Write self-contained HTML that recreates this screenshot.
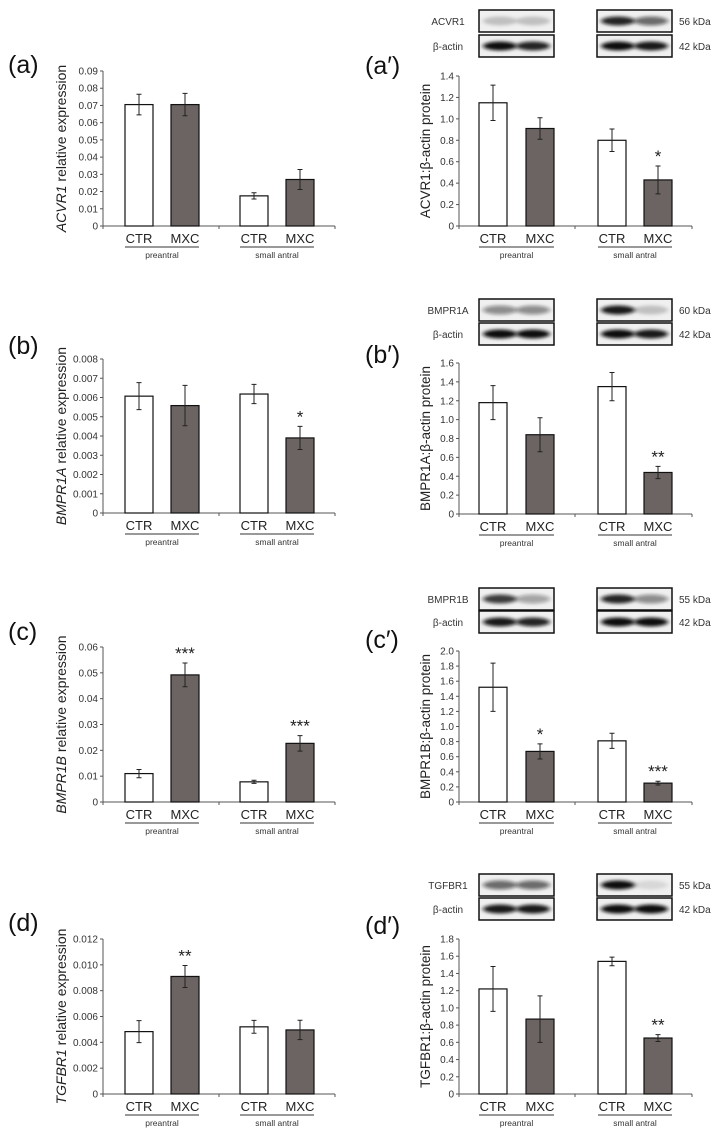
<!DOCTYPE html>
<html><head><meta charset="utf-8">
<style>
html,body{margin:0;padding:0;background:#fff;}
svg{display:block;font-family:"Liberation Sans",Arial,sans-serif;}
</style></head>
<body>
<svg id="fig" width="725" height="1135" viewBox="0 0 725 1135" xmlns="http://www.w3.org/2000/svg">
<defs>
<filter id="blur" x="-30%" y="-100%" width="160%" height="300%"><feGaussianBlur stdDeviation="2.4 1.6"/></filter>
</defs>
</svg>
<script>
// ---- data ----
const categories = ["CTR","MXC","CTR","MXC"];
const groups = ["preantral","small antral"];
const aVals = [0.0705,0.0705,0.0175,0.027];
const aErr  = [0.006,0.0065,0.0018,0.0058];
const aSig  = ["","","",""];
const aTicks = ["0","0.01","0.02","0.03","0.04","0.05","0.06","0.07","0.08","0.09"];
const apVals = [1.15,0.91,0.80,0.43];
const apErr  = [0.165,0.10,0.105,0.13];
const apSig  = ["","","","*"];
const apTicks = ["0","0.2","0.4","0.6","0.8","1.0","1.2","1.4"];
const bVals = [0.00607,0.00558,0.00618,0.0039];
const bErr  = [0.0007,0.00105,0.0005,0.0006];
const bSig  = ["","","","*"];
const bTicks = ["0","0.001","0.002","0.003","0.004","0.005","0.006","0.007","0.008"];
const bpVals = [1.18,0.84,1.35,0.44];
const bpErr  = [0.18,0.18,0.15,0.065];
const bpSig  = ["","","","**"];
const bpTicks = ["0","0.2","0.4","0.6","0.8","1.0","1.2","1.4","1.6"];
const cVals = [0.011,0.0492,0.0078,0.0227];
const cErr  = [0.0016,0.0046,0.0006,0.003];
const cSig  = ["","***","","***"];
const cTicks = ["0","0.01","0.02","0.03","0.04","0.05","0.06"];
const cpVals = [1.52,0.67,0.81,0.25];
const cpErr  = [0.32,0.10,0.10,0.025];
const cpSig  = ["","*","","***"];
const cpTicks = ["0","0.2","0.4","0.6","0.8","1.0","1.2","1.4","1.6","1.8","2.0"];
const dVals = [0.00483,0.0091,0.0052,0.00496];
const dErr  = [0.00085,0.00085,0.0005,0.00075];
const dSig  = ["","**","",""];
const dTicks = ["0","0.002","0.004","0.006","0.008","0.010","0.012"];
const dpVals = [1.22,0.87,1.54,0.65];
const dpErr  = [0.26,0.27,0.05,0.04];
const dpSig  = ["","","","**"];
const dpTicks = ["0","0.2","0.4","0.6","0.8","1.0","1.2","1.4","1.6","1.8"];
// blot band intensities (target lanes CTR,MXC,CTR,MXC ; actin)
const aBand = [0.2,0.2,0.9,0.6]; const aActin=[1,0.9,1,0.95];
const bBand = [0.45,0.45,0.95,0.2]; const bActin=[1,1,1,0.95];
const cBand = [0.8,0.35,0.9,0.45]; const cActin=[0.95,0.9,1,1];
const dBand = [0.6,0.6,1,0.1]; const dActin=[0.95,0.95,1,1];

const NS="http://www.w3.org/2000/svg";
const svg=document.getElementById('fig');
function mk(tag,attrs,parent,text){const e=document.createElementNS(NS,tag);for(const k in attrs)e.setAttribute(k,attrs[k]);if(text!==undefined)e.textContent=text;(parent||svg).appendChild(e);return e;}

const panels=[
 {id:'a',label:'(a)',title:'ACVR1',suffix:' relative expression',vals:aVals,err:aErr,sig:aSig,ticks:aTicks,left:true,top:71,zero:226,ly:64},
 {id:'a-prime',label:'(a′)',title:'ACVR1:β-actin protein',vals:apVals,err:apErr,sig:apSig,ticks:apTicks,left:false,top:76,zero:226,ly:65,prot:'ACVR1',kda:'56 kDa',band:aBand,actin:aActin,b1:10,b2:35},
 {id:'b',label:'(b)',title:'BMPR1A',suffix:' relative expression',vals:bVals,err:bErr,sig:bSig,ticks:bTicks,left:true,top:359,zero:513,ly:345},
 {id:'b-prime',label:'(b′)',title:'BMPR1A:β-actin protein',vals:bpVals,err:bpErr,sig:bpSig,ticks:bpTicks,left:false,top:363,zero:514,ly:354,prot:'BMPR1A',kda:'60 kDa',band:bBand,actin:bActin,b1:299,b2:323},
 {id:'c',label:'(c)',title:'BMPR1B',suffix:' relative expression',vals:cVals,err:cErr,sig:cSig,ticks:cTicks,left:true,top:647,zero:802,ly:631},
 {id:'c-prime',label:'(c′)',title:'BMPR1B:β-actin protein',vals:cpVals,err:cpErr,sig:cpSig,ticks:cpTicks,left:false,top:651,zero:802,ly:639,prot:'BMPR1B',kda:'55 kDa',band:cBand,actin:cActin,b1:588,b2:611},
 {id:'d',label:'(d)',title:'TGFBR1',suffix:' relative expression',vals:dVals,err:dErr,sig:dSig,ticks:dTicks,left:true,top:939,zero:1094,ly:922},
 {id:'d-prime',label:'(d′)',title:'TGFBR1:β-actin protein',vals:dpVals,err:dpErr,sig:dpSig,ticks:dpTicks,left:false,top:939,zero:1094,ly:925,prot:'TGFBR1',kda:'55 kDa',band:dBand,actin:dActin,b1:874,b2:898}
];

panels.forEach(p=>{
  const g=mk('g',{});
  
  
  const ax = p.left?103:459, axEnd = p.left?335:692, mid=p.left?219:575;
  const barX = p.left?[125,171,240,286]:[479,526,598,644];
  const bw = 28;
  const lx = p.left?8:365;
  const lab=mk('text',{x:lx,y:p.ly+9,'font-size':25,fill:'#111'},g,p.label);
  
  
  const maxV=parseFloat(p.ticks[p.ticks.length-1]);
  const y=v=>p.zero-(v/maxV)*(p.zero-p.top);
  mk('line',{x1:ax,y1:p.top,x2:ax,y2:p.zero,stroke:'#555','stroke-width':1},g);
  mk('line',{x1:ax,y1:p.zero,x2:axEnd,y2:p.zero,stroke:'#555','stroke-width':1},g);
  [ax,mid,axEnd].forEach(xx=>mk('line',{x1:xx,y1:p.zero,x2:xx,y2:p.zero+3,stroke:'#555'},g));
  p.ticks.forEach(t=>{
    const yy=y(parseFloat(t));
    mk('line',{x1:ax-3,y1:yy,x2:ax,y2:yy,stroke:'#555'},g);
    const tt=mk('text',{x:ax-5,y:yy+3.5,'font-size':10,'text-anchor':'end',fill:'#333'},g,t);
    
    
  });
  const cy=(p.top+p.zero)/2, tx=p.left?66:430;
  const at=mk('text',{x:tx,y:cy,'font-size':p.left?14:13.5,'text-anchor':'middle',fill:'#222',transform:`rotate(-90 ${tx} ${cy})`},g);
  
  
  if(p.left){mk('tspan',{'font-style':'italic'},at,p.title);mk('tspan',{},at,p.suffix);}else at.textContent=p.title;
  p.vals.forEach((v,i)=>{
    const r=mk('rect',{x:barX[i],y:y(v),width:bw,height:p.zero-y(v),fill:i%2?'#6b6462':'#fff',stroke:'#111','stroke-width':1.2},g);
    
    
    const cx=barX[i]+bw/2, e=p.err[i];
    const eb=mk('path',{d:`M${cx-2.5},${y(v+e)}H${cx+2.5}M${cx},${y(v+e)}V${y(v-e)}M${cx-2.5},${y(v-e)}H${cx+2.5}`,stroke:'#222','stroke-width':1,fill:'none'},g);
    
    
    if(p.sig[i]){
      const s=mk('text',{x:cx,y:y(v+e)-4,'font-size':17,'text-anchor':'middle',fill:'#222'},g,p.sig[i]);
      
      
    }
    const cl=mk('text',{x:cx,y:p.zero+17,'font-size':13,'text-anchor':'middle',fill:'#222'},g,categories[i]);
    
    
  });
  [0,1].forEach(k=>{
    const x1=barX[k*2], x2=barX[k*2+1]+bw;
    mk('line',{x1:x1,y1:p.zero+21,x2:x2,y2:p.zero+21,stroke:'#333','stroke-width':1},g);
    const gl=mk('text',{x:(x1+x2)/2,y:p.zero+32,'font-size':8.5,'text-anchor':'middle',fill:'#333'},g,groups[k]);
    
    
  });
  if(!p.left){
    const bg=mk('g',{},g);
    
    
    const boxes=[[479,554],[597,672]];
    [[p.b1,p.band,p.prot,p.kda],[p.b2,p.actin,'β-actin','42 kDa']].forEach(([by,ints,name,kda])=>{
      const h=22;
      boxes.forEach((bx,k)=>{
        mk('rect',{x:bx[0],y:by,width:bx[1]-bx[0],height:h,fill:'#f0f0f0'},bg);
        [0,1].forEach(j=>{
          const I=ints[k*2+j];
          const cx=bx[0]+(bx[1]-bx[0])*(j?0.72:0.28);
          mk('ellipse',{cx:cx,cy:by+h/2,rx:17,ry:4.5,fill:'#111','fill-opacity':I,filter:'url(#blur)'},bg);
        });
        mk('rect',{x:bx[0],y:by,width:bx[1]-bx[0],height:h,fill:'none',stroke:'#111','stroke-width':1.5},bg);
      });
      mk('text',{x:448,y:by+h/2+4,'font-size':10,'text-anchor':'middle',fill:'#333'},bg,name);
      mk('text',{x:679,y:by+h/2+4,'font-size':10,fill:'#333'},bg,kda);
    });
  }
});
</script>
</body></html>
